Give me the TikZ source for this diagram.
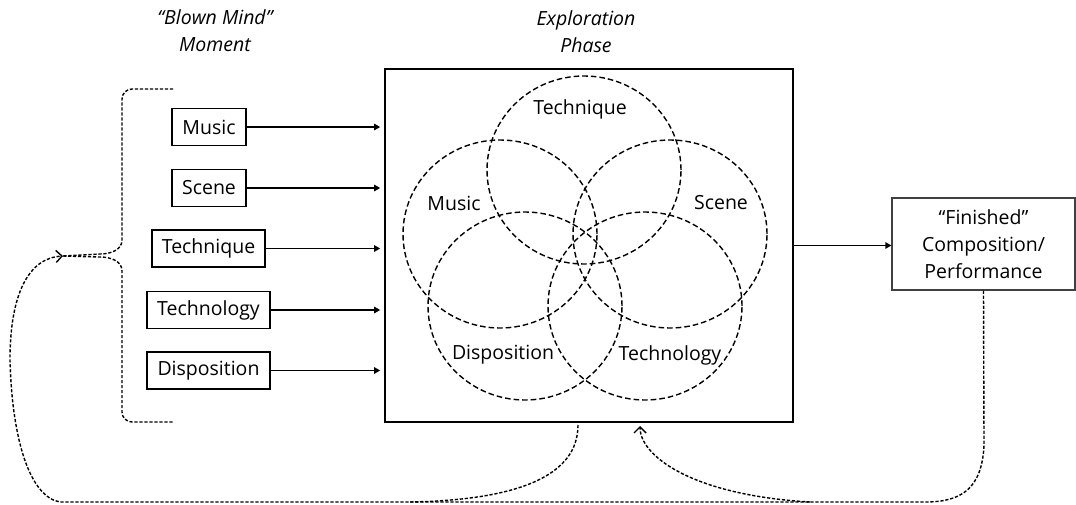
\documentclass[tikz,border=0pt]{standalone}
\usepackage{fontspec}
\setmainfont{Open Sans}
\usetikzlibrary{arrows.meta,positioning,shapes.geometric}

\begin{document}
\begin{tikzpicture}[x=0.5pt, y=-0.5pt,
    every node/.style={font=\fontsize{9.75}{13.5}\selectfont},
    title/.style={align=center, font=\fontsize{9.75}{13.5}\selectfont\itshape},
    item/.style={rectangle, draw, line width=0.8pt, minimum height=18.5pt, inner xsep=5pt},
    venn/.style={ellipse, draw, line width=0.7pt, dash pattern=on 2.8pt off 1.5pt, minimum width=97pt, minimum height=94pt},
    feed/.style={-{Triangle[length=3pt,width=3.2pt]}, line width=0.7pt},
    dotline/.style={line width=0.7pt, dash pattern=on 1.6pt off 0.9pt},
    dotarrow/.style={dotline, -{Straight Barb[length=3pt,width=6pt]}}
]
    \useasboundingbox (0,0) rectangle (1076,504);
    \node[title] (blown) at (215,31) {“Blown Mind”\\Moment};
    \node[title] (phase) at (586,32) {Exploration\\Phase};
    \node[draw, line width=0.8pt, minimum width=204pt, minimum height=176.5pt] (expl) at (589,245.5) {};
    \node[item, minimum width=37pt] (mus) at (209,127) {Music};
    \node[item, minimum width=37pt] (sce) at (209,188) {Scene};
    \node[item] (tec) at (208.5,248.5) {Technique};
    \node[item, minimum width=61.5pt] (tgy) at (208.5,310) {Technology};
    \node[item, minimum width=61.5pt] (dis) at (208.5,370.5) {Disposition};
    \foreach \n in {mus,sce,tec,tgy,dis}
        \draw[feed, shorten >=2pt] (\n) -- (\n -| expl.west);
    \node[venn] (vtq) at (584,170) {};
    \node[venn] (vmu) at (500,234) {};
    \node[venn] (vsc) at (670,234) {};
    \node[venn] (vds) at (525,306) {};
    \node[venn] (vtg) at (645,306) {};
    \node (ltq) at (580,109) {Technique};
    \node (lmu) at (454,203) {Music};
    \node (lsc) at (721,203) {Scene};
    \node (lds) at (503,355) {Disposition};
    \node (ltg) at (670,355) {Technology};
    \node[draw=black!75, line width=0.6pt, align=center, minimum width=91.5pt, minimum height=46pt] (fin) at (983.5,244) {“Finished”\\Composition/\\Performance};
    \draw[feed] (expl.east) -- (expl.east -| fin.west);
    \coordinate (tip) at (63,256);
    \coordinate (out) at (578,425);
    \coordinate (in) at (640,426);
    \draw[dotline] (173,89) -- (132,89) to[out=180,in=90] (122,99) -- (122,240) to[out=-90,in=0] (100,254) -- (tip);
    \draw[dotline] (tip) -- (100,257) to[out=0,in=90] (122,271) -- (122,412) to[out=-90,in=180] (132,422) -- (173,422);
    \draw[dotarrow] (fin.south) -- (984,445) .. controls (982,490) and (960,502) .. (925,502) -- (60,502)
        .. controls (30,497) and (12,440) .. (10,360) .. controls (10,295) and (28,258) .. (tip);
    \draw[dotline] (out) .. controls (578,475) and (520,500) .. (410,502);
    \draw[dotarrow] (810,502) .. controls (690,495) and (640,455) .. (in);
\end{tikzpicture}
\end{document}
